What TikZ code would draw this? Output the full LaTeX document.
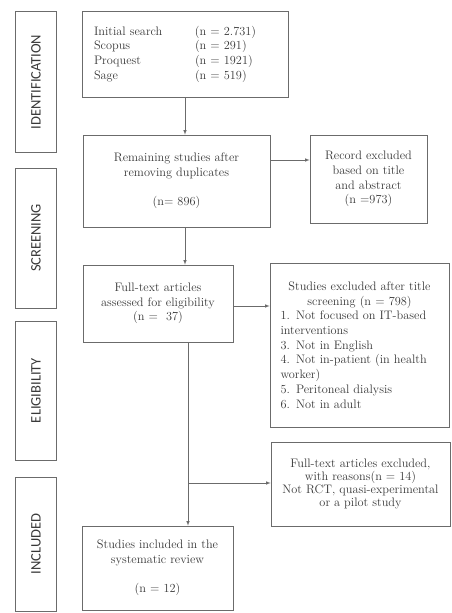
\documentclass[tikz,border=0pt]{standalone}
\usepackage{fontspec}
\usepackage{xcolor}
\usepackage{tikz}
\usetikzlibrary{calc}
\newfontfamily\sidefont{Carlito}
\definecolor{linegray}{HTML}{6B6B6B}
\definecolor{textgray}{HTML}{383838}
\tikzset{
  stage/.style = {draw = linegray, line width = 0.6pt, align = center, inner sep = 3pt, text = textgray, font = \fontsize{12.3}{14.7}\selectfont},
  phase/.style = {draw = linegray, line width = 0.6pt, rotate = 90, minimum height = 41pt, inner sep = 0pt, text = textgray, font = \sidefont\fontsize{14.5}{16}\selectfont},
  flow/.style = {draw = linegray, line width = 0.6pt, -latex}
}
\begin{document}
\begin{tikzpicture}[x = 1pt, y = -1pt]
            \useasboundingbox (0,0) rectangle (451,613);

            \node at (36,82) [phase, minimum width = 141pt] (ident) {IDENTIFICATION};
            \node at (36,238) [phase, minimum width = 140pt] (screen) {SCREENING};
            \node at (36,390.5) [phase, minimum width = 139pt] (elig) {ELIGIBILITY};
            \node at (36,544) [phase, minimum width = 134pt] (incl) {INCLUDED};

            \node at (185,54) [stage, minimum width = 206pt, minimum height = 86pt, text width = 182pt, align = left] (search)
                {\makebox[101pt][l]{Initial search}(n = 2.731)\\
                 \makebox[101pt][l]{Scopus}(n = 291)\\
                 \makebox[101pt][l]{Proquest}(n = 1921)\\
                 \makebox[101pt][l]{Sage}(n = 519)};
            \node at (176.5,181) [stage, minimum width = 187pt, minimum height = 92pt] (remain)
                {Remaining studies after\\ removing duplicates\\[15pt] (n= 896)};
            \node at (368.5,179) [stage, minimum width = 117pt, minimum height = 88pt] (record)
                {Record excluded\\ based on title\\ and abstract\\ (n =973)};
            \node at (158,303.5) [stage, minimum width = 150pt, minimum height = 77pt] (fulltext)
                {Full-text articles\\ assessed for eligibility\\ (n = \ 37)};
            \node at (359.5,345) [stage, minimum width = 179pt, minimum height = 164pt, text width = 158pt, align = left] (titleexcl)
                {\centering Studies excluded after title\\ screening (n = 798)\par
                 \raggedright 1. Not focused on IT-based\\ interventions\\ 3. Not in English\\
                 4. Not in-patient (in health\\ worker)\\ 5. Peritoneal dialysis\\ 6. Not in adult};
            \node at (360.5,484) [stage, minimum width = 179pt, minimum height = 84pt, font = \fontsize{12.3}{13.2}\selectfont] (textexcl)
                {Full-text articles excluded,\\ with reasons(n = 14)\\ Not RCT, quasi-experimental\\ or a pilot study};
            \node at (157.5,568) [stage, minimum width = 151pt, minimum height = 84pt] (review)
                {Studies included in the\\ systematic review\\[15pt] (n = 12)};

            \coordinate (split) at (188,483);

            \draw[flow] (search.south) -- (search.south |- remain.north);
            \draw[flow] ([yshift = 21pt]remain.east) -- ([yshift = 21pt]remain.east -| record.west);
            \draw[flow] (search.south |- remain.south) -- (search.south |- fulltext.north);
            \draw[flow] ([yshift = -2.5pt]fulltext.east) -- ([yshift = -2.5pt]fulltext.east -| titleexcl.west);
            \draw[draw = linegray, line width = 0.6pt] (split |- fulltext.south) -- (split);
            \draw[flow] (split) -- (split -| textexcl.west);
            \draw[flow] (split) -- (split |- review.north);
\end{tikzpicture}
\end{document}
